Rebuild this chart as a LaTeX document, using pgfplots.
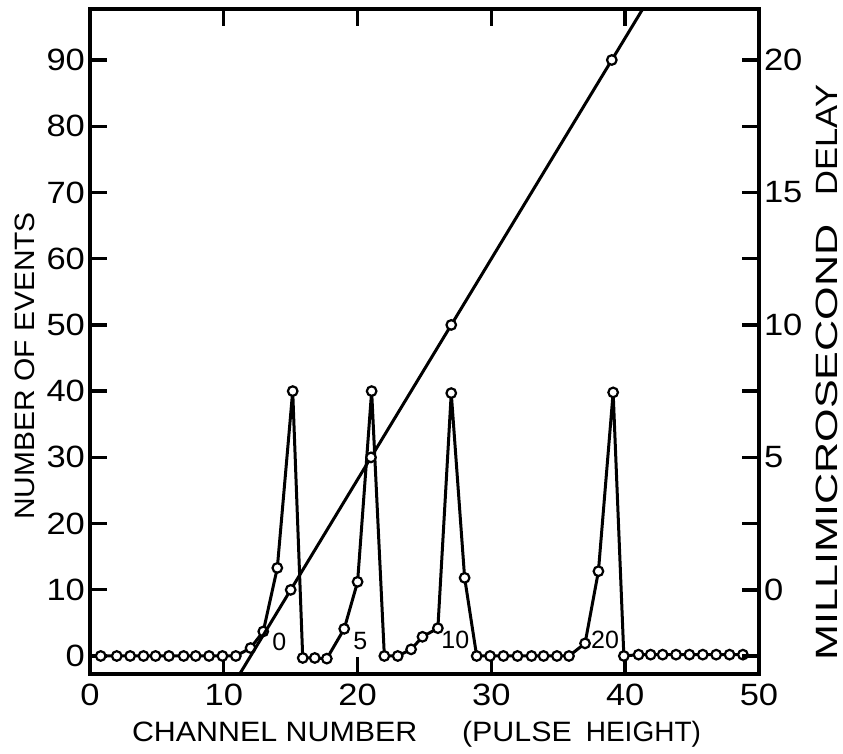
\documentclass[border=0pt]{standalone}
\usepackage{pgfplots}
\pgfplotsset{compat=1.18}
\usepackage{fontspec}
\setmainfont{Liberation Sans}
\begin{document}
\begin{tikzpicture}
\pgfplotsset{
  common/.style={
    scale only axis, width=334.5pt, height=332.5pt,
    xmin=0, xmax=50,
    axis line style={line width=1.7pt},
    tick style={line width=1.7pt, black},
    tick align=inside, major tick length=8.5pt,
    tick label style={font=\fontsize{15.4}{17}\selectfont},
    /pgf/number format/assume math mode=true,
    clip=true,
  }
}
\begin{axis}[common,
  ymin=-2.72, ymax=97.7,
  xtick={0,10,...,50}, ytick={0,10,...,90},
  xtick pos=both, xticklabel pos=lower,
  ytick pos=left,
  xticklabel={\scalebox{1.12}[1]{\pgfmathprintnumber{\tick}}},
  yticklabel={\scalebox{1.12}[1]{\pgfmathprintnumber{\tick}}},
  xticklabel style={yshift=-1.5pt},
  yticklabel style={xshift=1pt},
]
\addplot[black, line width=1.5pt, mark=*, mark size=2.4pt,
  mark options={fill=white, line width=1.1pt}] coordinates {
(0.8,0) (2,0) (3,0) (4,0) (4.9,0) (5.9,0) (7,0) (7.9,0) (8.9,0) (9.9,0) (10.9,0)
(12,1.2) (12.95,3.7) (14,13.3) (15.15,40)
(15.9,-0.3) (16.8,-0.3) (17.7,-0.4) (19,4.1) (20,11.2) (21.05,40)
(22,0) (23,0) (24,1.0) (24.85,2.9) (26,4.2) (27,39.7) (28,11.8)
(28.9,0) (29.9,0) (30.9,0) (31.95,0) (33,0) (33.9,0) (34.9,0) (35.8,0)
(37,1.9) (38,12.8) (39.1,39.8)
(39.9,0) (41,0.2) (41.9,0.2) (42.8,0.2) (43.8,0.2) (44.8,0.2) (45.8,0.2) (46.8,0.2) (47.8,0.2) (48.8,0.2)
};
\node[font=\fontsize{12.5}{14}\selectfont] at (axis cs:14.15,2.2) {0};
\node[font=\fontsize{12.5}{14}\selectfont] at (axis cs:20.2,2.3) {5};
\node[font=\fontsize{12.5}{14}\selectfont] at (axis cs:27.3,2.5) {10};
\node[font=\fontsize{12.5}{14}\selectfont] at (axis cs:38.5,2.5) {20};
\end{axis}
\begin{axis}[common,
  ymin=-3.175, ymax=21.925,
  xtick=\empty,
  ytick={-2.5,0,2.5,5,7.5,10,12.5,15,17.5,20},
  yticklabels={{},\scalebox{1.12}[1]{0},{},\scalebox{1.12}[1]{5},{},\scalebox{1.12}[1]{10},{},\scalebox{1.12}[1]{15},{},\scalebox{1.12}[1]{20}},
  ytick pos=right, yticklabel pos=right,
  yticklabel style={xshift=-1pt},
]
\addplot[black, line width=1.5pt, mark=*, mark size=2.4pt, mark indices={2,3,4,5},
  mark options={fill=white, line width=1.1pt}] coordinates {
(11.19,-3.175) (15,0) (21,5) (27,10) (39,20) (41.31,21.925)
};
\end{axis}
% axis labels
\node[rotate=90, font=\fontsize{14}{16}\selectfont] at (-32.5pt,154pt) {\scalebox{1.07}[1]{NUMBER OF EVENTS}};
\node[anchor=base west, font=\fontsize{14}{16}\selectfont] at (17.5pt,-34pt) {\scalebox{1.085}[1]{CHANNEL NUMBER}};
\node[anchor=base west, font=\fontsize{14}{16}\selectfont] at (182.5pt,-34pt) {\scalebox{1.085}[1]{(PULSE}};
\node[anchor=base east, font=\fontsize{14}{16}\selectfont] at (309pt,-34pt) {HEIGHT)};
\node[rotate=90, font=\fontsize{15.4}{17}\selectfont] at (368.25pt,115.75pt) {\scalebox{1.4}[1]{MILLIMICROSECOND}};
\node[rotate=90, font=\fontsize{15.4}{17}\selectfont] at (368.25pt,267pt) {\scalebox{1.12}[1]{DELAY}};
\pgfresetboundingbox
\useasboundingbox (-45pt,-40pt) rectangle (376.5pt,337pt);
\end{tikzpicture}
\end{document}
